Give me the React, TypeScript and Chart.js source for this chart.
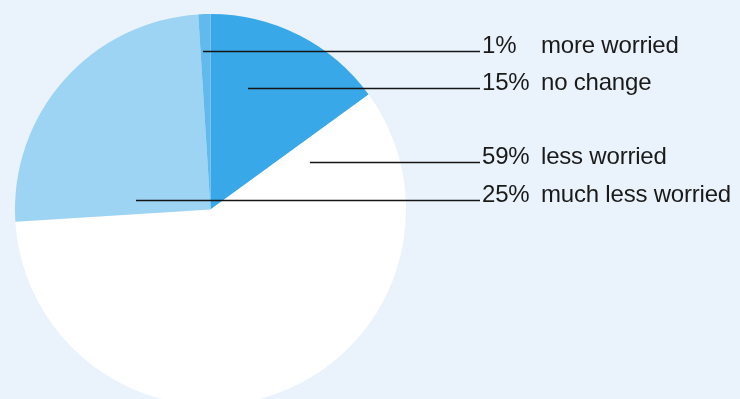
import React, { useEffect, useRef } from "react";
import { Chart, registerables } from "chart.js";

Chart.register(...registerables);

// Data
const categories = ["no change", "less worried", "much less worried", "more worried"];
const shares = [15, 59, 25, 1];
const sliceColors = ["#38a8e8", "#ffffff", "#9dd4f4", "#62b9ec"];

// Leader anchor inside each slice: fraction along slice angle, fraction of radius
const anchorAngleFrac = [0.318, 0.049, 0.121, 0.25];
const anchorRadiusFrac = [0.649, 0.564, 0.384, 0.813];

const LINE_END_X = 480;
const PCT_X = 482;
const CAT_X = 541;

const leaderPlugin = {
  id: "leaders",
  afterDatasetsDraw(chart: any) {
    const ctx = chart.ctx as CanvasRenderingContext2D;
    const meta = chart.getDatasetMeta(0);
    ctx.save();
    meta.data.forEach((arc: any, i: number) => {
      const p = arc.getProps(["x", "y", "startAngle", "endAngle", "outerRadius"], true);
      const a = p.startAngle + anchorAngleFrac[i] * (p.endAngle - p.startAngle);
      const r = anchorRadiusFrac[i] * p.outerRadius;
      const ax = p.x + Math.cos(a) * r;
      const ay = Math.round(p.y + Math.sin(a) * r) + 0.5;
      ctx.beginPath();
      ctx.strokeStyle = "#151515";
      ctx.lineWidth = 1.6;
      ctx.moveTo(ax, ay);
      ctx.lineTo(LINE_END_X, ay);
      ctx.stroke();
      ctx.fillStyle = "#1a1a1a";
      ctx.font = "24px 'Liberation Sans', Arial, sans-serif";
      (ctx as any).letterSpacing = "-0.2px";
      ctx.textBaseline = "alphabetic";
      ctx.textAlign = "left";
      ctx.fillText(`${shares[i]}%`, PCT_X, ay + 1);
      ctx.fillText(categories[i], CAT_X, ay + 1);
    });
    ctx.restore();
  },
};

export default function App() {
  const ref = useRef<HTMLCanvasElement | null>(null);
  useEffect(() => {
    if (!ref.current) return;
    const chart = new Chart(ref.current, {
      type: "pie",
      data: {
        labels: categories,
        datasets: [
          {
            data: shares,
            backgroundColor: sliceColors,
            borderWidth: 0,
          },
        ],
      },
      options: {
        responsive: false,
        animation: false,
        layout: { padding: { left: 15, top: 14, right: 334, bottom: 15 } },
        plugins: {
          legend: { display: false },
          tooltip: { enabled: false },
        },
      },
      plugins: [leaderPlugin],
    });
    return () => chart.destroy();
  }, []);
  return (
    <div
      style={{
        position: "fixed",
        left: 0,
        top: 0,
        width: 740,
        height: 399,
        overflow: "hidden",
        background: "#eaf3fb",
      }}
    >
      <canvas ref={ref} width={740} height={420} style={{ display: "block" }} />
    </div>
  );
}
